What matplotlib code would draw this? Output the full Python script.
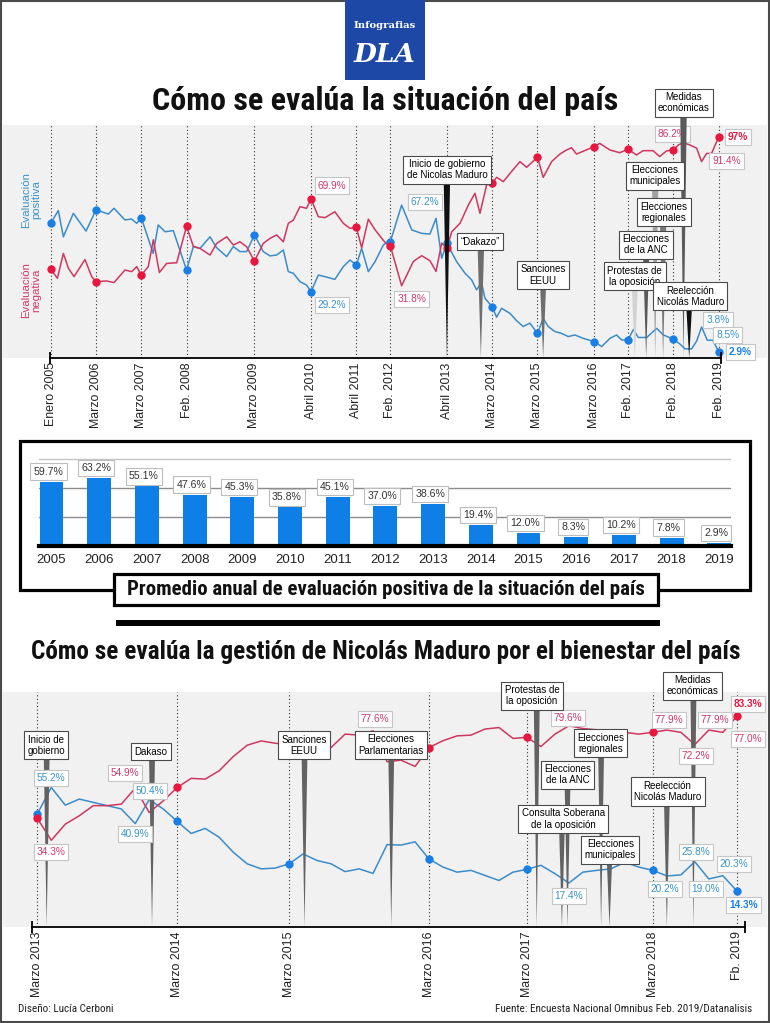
import matplotlib
matplotlib.use('Agg')
import matplotlib.pyplot as plt
from matplotlib import font_manager
from matplotlib.patches import Rectangle, Polygon

# ---------------------------------------------------------------------------
# datos
# ---------------------------------------------------------------------------
# grafico 1: como se evalua la situacion del pais (x = posicion de la encuesta)
top_tick_u = [0, 4, 8, 12, 18, 23, 27, 30, 35, 39, 43, 48, 51, 55, 59]
top_tick_labels = ['Enero 2005', 'Marzo 2006', 'Marzo 2007', 'Feb. 2008', 'Marzo 2009',
                   'Abril 2010', 'Abril 2011', 'Feb. 2012', 'Abril 2013', 'Marzo 2014',
                   'Marzo 2015', 'Marzo 2016', 'Feb. 2017', 'Feb. 2018', 'Feb. 2019']

pos_u = [0, 0.67, 1.12, 2.0, 3.12, 4, 5.09, 5.59, 6.56, 7.15, 7.6, 8, 9.05, 9.5, 10.1,
         10.83, 12, 12.6, 13.19, 14.07, 14.66, 15.55, 16.13, 16.72, 17.31, 18, 18.78,
         19.37, 19.96, 20.55, 20.99, 21.43, 22.02, 22.6, 23, 23.64, 24.23, 25.1, 25.85,
         26.44, 27, 27.47, 28.06, 28.65, 29.39, 29.83, 30, 31, 31.9, 32.77, 33.5, 34.04,
         34.54, 35, 35.86, 36.6, 37.18, 37.62, 38.07, 38.36, 39, 39.39, 39.83, 40.57,
         41.15, 41.74, 42.33, 43, 43.51, 43.95, 44.54, 45.13, 45.72, 46.31, 47.05, 48,
         48.67, 49.4, 49.99, 50.44, 51, 51.47, 51.91, 52.65, 53.53, 54.12, 55, 55.59,
         56.03, 56.62, 57.06, 57.5, 58.0, 58.5, 59]
pos_v = [59.2, 64.8, 53.3, 63.6, 55.8, 65.1, 63.3, 65.8, 60.7, 61.1, 59.2, 61.7, 46, 58.5,
         55.5, 56, 38.7, 49, 48.2, 53.3, 48.5, 44.6, 49, 46.8, 46.8, 54.1, 46.8, 44.9,
         45.3, 47.5, 38, 37.3, 33.6, 32.1, 29.2, 36.5, 35.8, 34.6, 40.2, 43.1, 40.9, 48.2,
         38, 42.4, 49.7, 51.2, 51.1, 67.2, 56.3, 54.8, 54.5, 61.4, 43.9, 50.4, 42.4, 37.3,
         34.4, 30, 33.2, 26.3, 22.6, 18, 21.9, 19.7, 16.5, 13.9, 15.4, 10.9, 17.5, 13.9,
         11.7, 10.9, 9.5, 10.2, 8.7, 7.3, 5.1, 8.7, 10.2, 8, 8, 12.6, 9.1, 9.1, 13.1, 10.2,
         8.4, 6.2, 4.1, 4.1, 7.5, 13.7, 7.9, 7.9, 2.9]

neg_u = [0, 0.59, 1.12, 1.56, 2.06, 3.03, 3.62, 4, 4.94, 5.59, 6.56, 7.15, 7.6, 8, 8.62,
         9.07, 9.6, 10.24, 11.13, 12, 12.6, 13.19, 14.07, 14.66, 15.55, 16.13, 16.72,
         17.31, 18, 18.78, 19.37, 19.96, 20.55, 20.99, 21.43, 22.02, 22.6, 23, 23.64,
         24.23, 25.1, 25.85, 26.44, 27, 27.47, 28.06, 28.65, 29.39, 29.83, 30, 31, 32.04,
         32.77, 33.5, 34.04, 34.54, 35, 35.42, 36.16, 36.9, 37.48, 37.92, 38.51, 39,
         39.39, 39.98, 40.57, 41.45, 42.04, 43, 43.51, 44.25, 44.98, 45.57, 46.01, 46.45,
         47.1, 48, 48.5, 49.4, 50.27, 51, 51.74, 52.33, 53.21, 53.8, 54.4, 55, 55.44,
         55.88, 56.47, 57.06, 57.5, 57.94, 58.38, 59]
neg_v = [39, 35.1, 46, 39.5, 35.8, 43.3, 35.8, 33.6, 33.9, 33.2, 38.7, 38, 40.2, 36.5,
         40.2, 52, 37.6, 41.6, 41.9, 57.9, 49.1, 48.2, 45.3, 50.4, 53.3, 49.7, 51.1, 48.9,
         42.6, 50.4, 52.6, 54.1, 51.1, 59.2, 60.6, 66.5, 65.8, 69.9, 62.1, 61.7, 64.3,
         59.2, 57, 57.5, 48.5, 61, 56.4, 51.7, 49.4, 49.4, 31.8, 42.5, 45, 42.8, 38.1,
         50.5, 48.2, 55.5, 59.2, 67.3, 72.4, 63.6, 76.1, 76.8, 79.4, 77.5, 81.1, 86.3,
         83.8, 88.2, 79.4, 86.3, 89.6, 91.4, 92.4, 89.6, 91, 92.8, 94.3, 91.4, 90.2, 91.8,
         89.2, 91.1, 91.1, 88.5, 91, 91.4, 93.6, 94.6, 93.6, 92.2, 86.3, 89.9, 89.9, 97]

top_events = ['Inicio de gobierno\nde Nicolas Maduro', '\u201cDakazo\u201d', 'Sanciones\nEEUU',
              'Protestas de\nla oposición', 'Elecciones\nde la ANC', 'Elecciones\nmunicipales',
              'Elecciones\nregionales', 'Medidas\neconómicas', 'Reelección\nNicolás Maduro']
top_event_u = [35, 38, 43.5, 51.6, 52.6, 53.4, 54.1, 55.9, 56.4]

# grafico 2: promedio anual de evaluacion positiva
years = ['2005', '2006', '2007', '2008', '2009', '2010', '2011', '2012', '2013', '2014',
         '2015', '2016', '2017', '2018', '2019']
avg_pos = [59.7, 63.2, 55.1, 47.6, 45.3, 35.8, 45.1, 37.0, 38.6, 19.4, 12.0, 8.3, 10.2,
           7.8, 2.9]

# grafico 3: gestion de Nicolas Maduro (x = posicion de la encuesta)
bot_tick_u = [0, 10, 18, 28, 35, 44, 50]
bot_tick_labels = ['Marzo 2013', 'Marzo 2014', 'Marzo 2015', 'Marzo 2016', 'Marzo 2017',
                   'Marzo 2018', 'Fb. 2019']
bot_u = list(range(51))
bot_pos = [44.7, 55.2, 48.2, 50.6, 49.3, 48.0, 46.7, 40.9, 50.4, 46.7, 41.8, 37.0, 39.0,
           35.5, 29.6, 25.0, 23.0, 23.3, 25.0, 28.9, 26.3, 25.0, 21.9, 23.0, 21.2, 32.6,
           32.4, 33.7, 26.9, 23.7, 21.7, 22.4, 20.4, 18.4, 21.7, 22.8, 24.4, 21.1, 17.4,
           21.7, 22.4, 23.0, 25.6, 23.7, 22.4, 20.2, 20.6, 25.8, 19.0, 20.3, 14.3]
bot_neg = [43.0, 34.3, 40.7, 44.0, 48.0, 48.0, 48.6, 54.9, 45.3, 49.9, 55.2, 58.8, 58.5,
           61.8, 67.4, 71.9, 73.6, 72.7, 72.0, 70.0, 68.5, 71.0, 76.3, 75.9, 77.6, 65.4,
           66.0, 63.5, 71.0, 73.7, 75.6, 75.9, 78.3, 78.9, 74.6, 75.0, 71.4, 76.3, 79.6,
           78.5, 78.0, 77.5, 77.0, 76.3, 77.0, 77.9, 77.0, 72.2, 77.9, 77.0, 83.3]

bot_events = ['Inicio de\ngobierno', 'Dakaso', 'Sanciones\nEEUU', 'Elecciones\nParlamentarias',
              'Protestas de\nla oposición', 'Elecciones\nregionales', 'Elecciones\nde la ANC',
              'Consulta Soberana\nde la oposición', 'Elecciones\nmunicipales',
              'Reelección\nNicolás Maduro', 'Medidas\neconómicas']
bot_event_u = [0.67, 8.2, 19.1, 25.3, 35.7, 40.3, 37.9, 37.5, 40.9, 45.0, 46.9]

# ---------------------------------------------------------------------------
# estilo
# ---------------------------------------------------------------------------
W, H = 770, 1023
BLUE_LINE, BLUE_DOT, BLUE_TXT = '#3b8cc9', '#1a7fe4', '#3a93cc'
RED_LINE, RED_DOT, RED_TXT = '#cf3760', '#e8173f', '#d0386a'
BAR_BLUE = '#0f7fe8'
PANEL = '#f1f1f1'

names = {f.name for f in font_manager.fontManager.ttflist}
SANS = 'Liberation Sans'
COND = 'Liberation Sans Narrow' if 'Liberation Sans Narrow' in names else 'Roboto Condensed' \
    if 'Roboto Condensed' in names else 'Roboto'
plt.rcParams['font.family'] = [SANS, 'DejaVu Sans']

fig = plt.figure(figsize=(W / 100, H / 100), dpi=100)
renderer = fig.canvas.get_renderer()


def px_box(x0, y0, x1, y1):
    return [x0 / W, 1 - y1 / H, (x1 - x0) / W, (y1 - y0) / H]


def ftext(x, y, s, **kw):
    return fig.text(x / W, 1 - y / H, s, **kw)


def fit(t, width):
    bb = t.get_window_extent(renderer)
    t.set_fontsize(t.get_fontsize() * width / bb.width)


def frect(x0, y0, x1, y1, **kw):
    r = Rectangle((x0 / W, 1 - y1 / H), (x1 - x0) / W, (y1 - y0) / H,
                  transform=fig.transFigure, **kw)
    fig.add_artist(r)
    return r


def pointer(ax, u, v_top, color, hw, z=5):
    ax.add_patch(Polygon([[u - hw, v_top], [u + hw, v_top], [u, 0]], closed=True,
                         fc=color, ec='none', zorder=z, clip_on=False))


def event_box(ax, u, v, s, z=7):
    ax.text(u, v, s, ha='center', va='center', fontsize=7, zorder=z, linespacing=1.15,
            clip_on=False, bbox=dict(boxstyle='square,pad=0.35', fc='white', ec='#4a4a4a', lw=0.8))


def value_label(ax, u, v, s, color, bold=False, z=4):
    ax.text(u, v, s, ha='center', va='center', fontsize=7.3, color=color, zorder=z,
            fontweight='bold' if bold else 'normal', clip_on=False,
            bbox=dict(boxstyle='square,pad=0.3', fc='white', ec='#c6c6c6', lw=0.8))


def timeline_axes(ax, ticks, labels):
    ax.set_facecolor(PANEL)
    for s in ax.spines.values():
        s.set_visible(False)
    ax.set_yticks([])
    ax.set_xticks(ticks, labels, rotation=90, fontsize=8.9, color='#222')
    ax.tick_params(axis='x', length=0, pad=3)
    for t in ticks:
        ax.axvline(t, color='#333', lw=0.8, ls=(0, (1, 2.2)), zorder=1)
    ends = [ticks[0] - 0.1, ticks[-1] + 0.25]
    ax.plot(ends, [0, 0], color='k', lw=1.3, clip_on=False, zorder=6)
    ax.plot(ends, [0, 0], ls='none', marker='|', ms=8, mew=1.3, color='k',
            clip_on=False, zorder=6)


def dots(ax, u, v, ticks, color):
    su = [x for x in u if x in ticks]
    sv = [y for x, y in zip(u, v) if x in ticks]
    ax.plot(su, sv, 'o', ms=6, color=color, mec='none', zorder=4)


# marco general
frect(0.8, 0.8, W - 0.8, H - 0.8, fill=False, ec='#4a4a4a', lw=1.5)

# logo
frect(345, 0, 425, 80, fc='#1d48a6', ec='none')
t = ftext(385, 25, 'Infografias', ha='center', va='center', color='white',
          family='DejaVu Serif', fontweight='bold', fontsize=9)
fit(t, 62)
t = ftext(385, 54, 'DLA', ha='center', va='center', color='white',
          family='DejaVu Serif', fontweight='bold', fontstyle='italic', fontsize=22)
fit(t, 62)

# ---------------------------------------------------------------------------
# grafico 1
# ---------------------------------------------------------------------------
t = ftext(385, 110, 'Cómo se evalúa la situación del país', ha='center', va='baseline',
          family=[COND, 'DejaVu Sans'], fontweight='bold', fontsize=20, color='#111')
fit(t, 466)

TX0, TUX = 50.7, 11.32          # px of first survey, px per survey step
TY0, TVY = 358.2, 2.278         # px of 0 %, px per %
ax1 = fig.add_axes(px_box(3, 125, 767, TY0))
ax1.set_xlim((3 - TX0) / TUX, (767 - TX0) / TUX)
ax1.set_ylim(0, (TY0 - 125) / TVY)
timeline_axes(ax1, top_tick_u, top_tick_labels)

ax1.plot(pos_u, pos_v, color=BLUE_LINE, lw=1.1, zorder=3)
ax1.plot(neg_u, neg_v, color=RED_LINE, lw=1.1, zorder=3)
dots(ax1, pos_u, pos_v, top_tick_u, BLUE_DOT)
dots(ax1, neg_u, neg_v, top_tick_u, RED_DOT)

top_box_pos = [(35.0, 82.8), (37.93, 51.2), (43.5, 36.5), (51.6, 35.9), (52.6, 49.9),
               (53.4, 80.2), (54.2, 64.0), (55.95, 112.2), (56.5, 27.1)]
top_ptr_col = ['#111111', '#6e6e6e', '#6e6e6e', '#d2d2d2', '#5a5a5a', '#a2a2a2',
               '#7a7a7a', '#5a5a5a', '#111111']
for name, u, (bu, bv), c in zip(top_events, top_event_u, top_box_pos, top_ptr_col):
    pointer(ax1, u, bv, c, 0.3)
    event_box(ax1, bu, bv, name)

top_values = [('69.9%', 24.85, 75.8, RED_TXT, False), ('29.2%', 24.85, 23.4, BLUE_TXT, False),
              ('67.2%', 33.07, 68.6, BLUE_TXT, False), ('31.8%', 31.9, 26.0, RED_TXT, False),
              ('86.2%', 54.9, 98.4, RED_TXT, False), ('97%', 60.7, 97.1, RED_DOT, True),
              ('91.4%', 59.7, 86.6, RED_TXT, False), ('3.8%', 58.95, 16.8, BLUE_TXT, False),
              ('8.5%', 59.8, 10.2, BLUE_TXT, False), ('2.9%', 60.9, 2.7, BLUE_DOT, True)]
for s, u, v, c, b in top_values:
    value_label(ax1, u, v, s, c, b, z=4.5)

ftext(31, 200, 'Evaluación\npositiva', rotation=90, ha='center', va='center',
      color=BLUE_TXT, fontsize=8.2, linespacing=1.0)
ftext(31, 290, 'Evaluación\nnegativa', rotation=90, ha='center', va='center',
      color=RED_TXT, fontsize=8.2, linespacing=1.0)

# ---------------------------------------------------------------------------
# grafico 2: barras
# ---------------------------------------------------------------------------
frect(19.5, 441, 749.5, 589.5, fill=False, ec='black', lw=2.3)
BY0, BVY = 546, 1.08
ax2 = fig.add_axes(px_box(39, 450, 730.5, BY0))
x = range(len(years))
ax2.set_xlim((39 - 51.5) / 47.7, (730.5 - 51.5) / 47.7)
ax2.set_ylim(0, (BY0 - 450) / BVY)
for gv, gc in zip([27, 54, 80.3], ['#8c8c8c', '#8c8c8c', '#c4c4c4']):
    ax2.axhline(gv, color=gc, lw=1.0, zorder=0)
ax2.bar(x, avg_pos, width=0.5, color=BAR_BLUE, zorder=2)
for i, v in zip(x, avg_pos):
    ax2.annotate(f'{v:.1f}%', xy=(i, v), xytext=(-3, 10), textcoords='offset pixels',
                 ha='center', va='center', fontsize=7.6, color='#333', zorder=3,
                 bbox=dict(boxstyle='square,pad=0.3', fc='white', ec='#bdbdbd', lw=0.8))
for s in ['top', 'left', 'right']:
    ax2.spines[s].set_visible(False)
ax2.spines['bottom'].set_linewidth(3)
ax2.set_yticks([])
ax2.set_xticks(list(x), years, fontsize=9.5, color='#222')
ax2.tick_params(axis='x', length=0, pad=6)
ax2.patch.set_visible(False)

frect(114, 573.5, 658, 604.5, fc='white', ec='black', lw=2.3, zorder=5)
t = ftext(386, 595, 'Promedio anual de evaluación positiva de la situación del país',
          ha='center', va='baseline', family=[COND, 'DejaVu Sans'], fontweight='bold',
          fontsize=13, color='#111', zorder=6)
fit(t, 516)

frect(116, 619.5, 660, 626, fc='black', ec='none')

# ---------------------------------------------------------------------------
# grafico 3
# ---------------------------------------------------------------------------
t = ftext(386, 659, 'Cómo se evalúa la gestión de Nicolás Maduro por el bienestar del país',
          ha='center', va='baseline', family=[COND, 'DejaVu Sans'], fontweight='bold',
          fontsize=16, color='#111')
fit(t, 709)

BX0, BUX = 37.3, 13.99
BYB, BVY3 = 927.0, 2.528
ax3 = fig.add_axes(px_box(3, 692, 767, BYB))
ax3.set_xlim((3 - BX0) / BUX, (767 - BX0) / BUX)
ax3.set_ylim(0, (BYB - 692) / BVY3)
timeline_axes(ax3, bot_tick_u, bot_tick_labels)
ax3.lines[-2].set_xdata([bot_tick_u[0] - 0.4, bot_tick_u[-1] + 0.6])
ax3.lines[-1].set_xdata([bot_tick_u[0] - 0.4, bot_tick_u[-1] + 0.6])

ax3.plot(bot_u, bot_pos, color=BLUE_LINE, lw=1.1, zorder=3)
ax3.plot(bot_u, bot_neg, color=RED_LINE, lw=1.1, zorder=3)
dots(ax3, bot_u, bot_pos, bot_tick_u, BLUE_DOT)
dots(ax3, bot_u, bot_neg, bot_tick_u, RED_DOT)

bot_box_pos = [(0.62, 71.8), (8.13, 69.4), (19.06, 71.8), (25.25, 72.0), (35.36, 91.5),
               (40.26, 72.7), (37.9, 60.3), (37.6, 42.7), (40.97, 30.6), (45.05, 53.6),
               (46.83, 95.5)]
for name, u, (bu, bv) in zip(bot_events, bot_event_u, bot_box_pos):
    pointer(ax3, u, bv, '#626262', 0.22)
for name, u, (bu, bv) in zip(bot_events, bot_event_u, bot_box_pos):
    event_box(ax3, bu, bv, name)

bot_values = [('55.2%', 0.98, 58.9, BLUE_TXT, False), ('34.3%', 0.98, 29.6, RED_TXT, False),
              ('54.9%', 6.27, 60.9, RED_TXT, False), ('50.4%', 8.06, 53.8, BLUE_TXT, False),
              ('40.9%', 6.98, 36.7, BLUE_TXT, False), ('77.6%', 24.14, 82.2, RED_TXT, False),
              ('79.6%', 37.93, 82.6, RED_TXT, False), ('77.9%', 45.15, 81.8, RED_TXT, False),
              ('77.9%', 48.44, 81.8, RED_TXT, False), ('83.3%', 50.8, 88.2, RED_DOT, True),
              ('77.0%', 50.8, 74.3, RED_TXT, False), ('72.2%', 47.08, 67.6, RED_TXT, False),
              ('25.8%', 47.08, 29.6, BLUE_TXT, False), ('20.3%', 49.8, 24.9, BLUE_TXT, False),
              ('20.2%', 44.87, 15.0, BLUE_TXT, False), ('19.0%', 47.8, 15.0, BLUE_TXT, False),
              ('17.4%', 38.0, 12.3, BLUE_TXT, False), ('14.3%', 50.5, 8.7, BLUE_DOT, True)]
for s, u, v, c, b in bot_values:
    value_label(ax3, u, v, s, c, b, z=6)

# pie
t = ftext(18, 1012, 'Diseño: Lucía Cerboni', ha='left', va='baseline',
          family=[COND, 'DejaVu Sans'], fontsize=7.5, color='#222')
fit(t, 95)
t = ftext(752, 1012, 'Fuente: Encuesta Nacional Omnibus Feb. 2019/Datanalisis', ha='right',
          va='baseline', family=[COND, 'DejaVu Sans'], fontsize=7.5, color='#222')
fit(t, 255)

fig.savefig('out.png', dpi=100, facecolor='white')
